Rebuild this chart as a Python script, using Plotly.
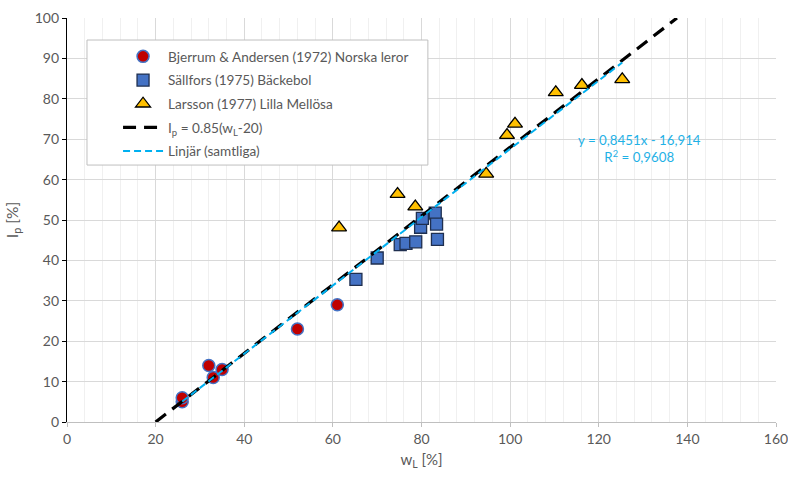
import plotly.graph_objects as go

# Bjerrum & Andersen (1972) Norska leror
bj_x = [26, 26, 32, 33, 35, 52, 61]
bj_y = [5, 6, 14, 11, 13, 23, 29]
# Sällfors (1975) Bäckebol
sa_x = [65.2, 70, 75.2, 76.5, 78.7, 79.8, 80.2, 83.1, 83.4, 83.6]
sa_y = [35.3, 40.6, 43.9, 44.2, 44.6, 48.2, 50.4, 51.7, 49.0, 45.2]
# Larsson (1977) Lilla Mellösa
la_x = [61.4, 74.6, 78.6, 94.6, 99.3, 101.1, 110.3, 116.2, 125.3]
la_y = [48.1, 56.4, 53.3, 61.4, 71.0, 73.8, 81.6, 83.4, 84.8]

# Ip = 0.85(wL - 20)
ref_x = [20, 137.65]
ref_slope = 0.85
ref_x0 = 20
# Linear trendline (all data)
tr_slope = 0.8451
tr_icpt = -16.914

ref_y = [ref_slope * (v - ref_x0) for v in ref_x]
all_x = bj_x + sa_x + la_x
tr_x = [min(all_x), max(all_x)]
tr_y = [tr_slope * v + tr_icpt for v in tr_x]

font = "Lato, Carlito, Calibri, sans-serif"
txt = "#595959"

fig = go.Figure()
fig.add_trace(go.Scatter(x=bj_x, y=bj_y, mode="markers", name="Bjerrum & Andersen (1972) Norska leror",
                         legendgroup="a",
                         marker=dict(symbol="circle", size=12, color="#C00000",
                                     line=dict(color="#4472C4", width=1.5))))
fig.add_trace(go.Scatter(x=sa_x, y=sa_y, mode="markers", name="Sällfors (1975) Bäckebol",
                         legendgroup="b",
                         marker=dict(symbol="square", size=12, color="#4472C4",
                                     line=dict(color="#1F2F4F", width=1.3))))
fig.add_trace(go.Scatter(x=la_x, y=la_y, mode="markers", name="Larsson (1977) Lilla Mellösa",
                         legendgroup="c",
                         marker=dict(symbol="triangle-up", size=13, color="#FFC000",
                                     line=dict(color="#000000", width=1.3))))
fig.add_trace(go.Scatter(x=ref_x, y=ref_y, mode="lines", name="I<sub>p</sub> = 0.85(w<sub>L</sub>-20)",
                         legendgroup="d",
                         line=dict(color="#000000", width=3.2, dash="13px,8px")))
fig.add_trace(go.Scatter(x=tr_x, y=tr_y, mode="lines", name="Linjär (samtliga)",
                         legendgroup="e",
                         line=dict(color="#00B0F0", width=2, dash="7px,4px")))

fig.add_annotation(x=129.1, y=67.6, xref="x", yref="y",
                   text="y = 0,8451x - 16,914<br>R<sup>2</sup> = 0,9608",
                   showarrow=False, align="center",
                   font=dict(family=font, size=13.3, color="#1FB1E6"))

# legend frame
fig.add_shape(type="rect", xref="paper", yref="paper",
              x0=0.0282, x1=0.509, y0=0.636, y1=0.9455,
              fillcolor="white", line=dict(color="#BFBFBF", width=1), layer="above")

fig.update_layout(
    width=788, height=478,
    margin=dict(l=67, r=12, t=18, b=56, autoexpand=False),
    paper_bgcolor="white", plot_bgcolor="white",
    font=dict(family=font, size=14, color=txt),
    showlegend=True,
    legend=dict(x=0.072, y=0.943, xanchor="left", yanchor="top",
                bgcolor="rgba(0,0,0,0)", borderwidth=0,
                font=dict(family=font, size=13.6, color=txt),
                tracegroupgap=3, itemwidth=40),
    xaxis=dict(range=[0, 160], dtick=20, tick0=0, automargin=False,
               ticklabeloverflow="allow",
               showgrid=True, gridcolor="#D9D9D9", gridwidth=1,
               minor=dict(dtick=4, showgrid=True, gridcolor="#F0F0F0", gridwidth=1),
               showline=True, linecolor="#BFBFBF", linewidth=1,
               ticks="outside", ticklen=4, tickcolor="#BFBFBF",
               zeroline=False,
               title=dict(text="w<sub>L</sub> [%]", font=dict(family=font, size=15, color=txt), standoff=8),
               tickfont=dict(family=font, size=14, color=txt)),
    yaxis=dict(range=[0, 100], dtick=10, tick0=0, automargin=False,
               ticklabeloverflow="allow",
               showgrid=True, gridcolor="#D9D9D9", gridwidth=1,
               showline=True, linecolor="#000000", linewidth=1.3,
               ticks="outside", ticklen=4, tickcolor="#000000",
               zeroline=False,
               title=dict(text="I<sub>p</sub> [%]", font=dict(family=font, size=15.5, color=txt), standoff=12),
               tickfont=dict(family=font, size=14, color=txt)),
)

fig.write_html("out.html")
